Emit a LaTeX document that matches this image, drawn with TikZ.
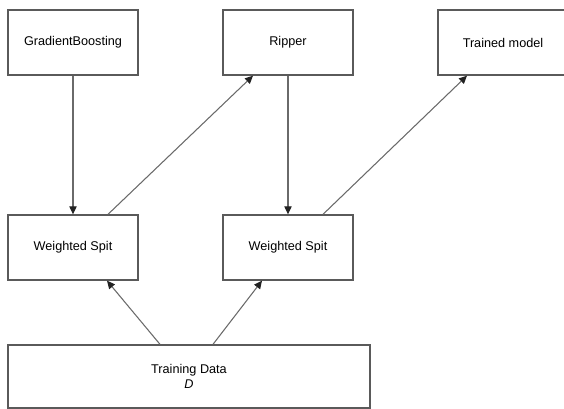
\documentclass[tikz,border=0pt]{standalone}
\usepackage{fontspec}
\setmainfont{Liberation Sans}
\usetikzlibrary{arrows.meta,calc}
\definecolor{boxline}{HTML}{5A5A5A}
\definecolor{arrline}{HTML}{6A6A6A}
\definecolor{tipcol}{HTML}{222222}
\begin{document}
\begin{tikzpicture}[x=0.75pt,y=-0.75pt,
  box/.style={draw=boxline,line width=1pt,fill=white,minimum width=97.5pt,minimum height=48.75pt,inner sep=0pt,align=center,font=\fontsize{9.5}{12}\selectfont},
  arr/.style={draw=arrline,line width=0.8pt,-{Triangle[length=6pt,width=5.5pt,color=tipcol]}}]
\useasboundingbox (0,0) rectangle (564,409);
\node[box] (gb) at (73,42.5) {GradientBoosting};
\node[box] (rip) at (288,42.5) {Ripper};
\node[box] (tm) at (503,42.5) {Trained model};
\node[box] (ws1) at (73,247.5) {Weighted Spit};
\node[box] (ws2) at (288,247.5) {Weighted Spit};
\node[box,minimum width=271.5pt,minimum height=47.25pt] (td) at (189,376.5) {Training Data\\[-1pt]\textit{D}};
\draw[arr] (gb.south) -- (ws1.north);
\draw[arr] ($(ws1.north)+(35,0)$) -- ($(rip.south)+(-35,0)$);
\draw[arr] (rip.south) -- (ws2.north);
\draw[arr] ($(ws2.north)+(35,0)$) -- ($(tm.south)+(-36,0)$);
\draw[arr] ($(td.north)+(-29,0)$) -- ($(ws1.south)+(34,0)$);
\draw[arr] ($(td.north)+(24,0)$) -- ($(ws2.south)+(-26,0)$);
\end{tikzpicture}
\end{document}
